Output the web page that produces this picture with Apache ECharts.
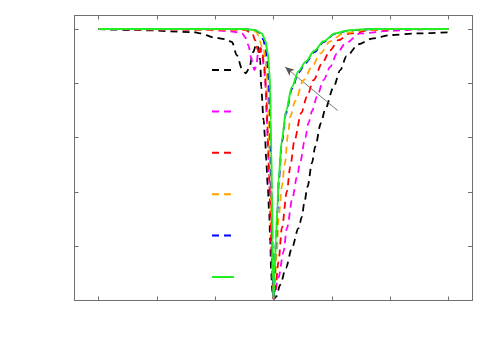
<!DOCTYPE html>
<html>
<head>
<meta charset="utf-8">
<script src="https://cdn.jsdelivr.net/npm/echarts@6/dist/echarts.min.js"></script>
<style>html,body{margin:0;padding:0;background:#fff;}#c{width:500px;height:350px;}</style>
</head>
<body>
<div id="c"></div>
<script>
// x ticks and y ticks
const xTicks = [-3, -2, -1, 0, 1, 2, 3];
const yTicks = [0, 0.2, 0.4, 0.6, 0.8, 1.0];

// curves: [x, y]
const black = [[-3,1],[-2.286,0.996],[-1.377,0.989],[-1.257,0.984],[-1.017,0.969],[-0.829,0.963],[-0.714,0.953],[-0.629,0.904],[-0.543,0.855],[-0.474,0.837],[-0.417,0.856],[-0.349,0.915],[-0.297,0.944],[-0.257,0.933],[-0.229,0.885],[-0.211,0.787],[-0.171,0.665],[-0.143,0.591],[-0.126,0.518],[-0.1,0.426],[-0.074,0.32],[-0.057,0.22],[-0.04,0.1],[-0.02,0.03],[0,0.005],[0.045,0.014],[0.114,0.058],[0.212,0.12],[0.315,0.194],[0.428,0.267],[0.486,0.309],[0.526,0.359],[0.583,0.419],[0.658,0.507],[0.714,0.567],[0.812,0.654],[0.886,0.705],[1.029,0.787],[1.143,0.849],[1.25,0.9],[1.457,0.944],[1.686,0.965],[2.0,0.978],[2.457,0.984],[3,0.988]];
const magenta = [[-3,1],[-1.257,0.998],[-0.743,0.992],[-0.543,0.985],[-0.469,0.966],[-0.434,0.941],[-0.371,0.885],[-0.326,0.849],[-0.297,0.864],[-0.263,0.915],[-0.229,0.93],[-0.194,0.904],[-0.16,0.849],[-0.143,0.812],[-0.12,0.691],[-0.097,0.566],[-0.074,0.444],[-0.057,0.37],[-0.04,0.223],[-0.023,0.094],[-0.006,0.017],[0,0.005],[0.085,0.084],[0.171,0.18],[0.229,0.267],[0.325,0.378],[0.4,0.455],[0.457,0.51],[0.543,0.6],[0.6,0.655],[0.664,0.7],[0.743,0.751],[0.857,0.812],[0.971,0.861],[1.086,0.91],[1.229,0.947],[1.486,0.984],[2,0.994],[2.566,0.999],[3,1]];
const red = [[-3,1],[-0.743,0.998],[-0.486,0.996],[-0.366,0.985],[-0.314,0.959],[-0.269,0.922],[-0.246,0.904],[-0.22,0.93],[-0.194,0.915],[-0.16,0.867],[-0.126,0.775],[-0.1,0.628],[-0.078,0.481],[-0.057,0.334],[-0.035,0.187],[-0.014,0.058],[0,0.005],[0.03,0.04],[0.085,0.143],[0.143,0.267],[0.229,0.401],[0.286,0.493],[0.36,0.591],[0.474,0.691],[0.572,0.751],[0.686,0.812],[0.829,0.873],[0.971,0.922],[1.109,0.959],[1.314,0.984],[1.657,0.996],[2.2,1],[3,1]];
const orange = [[-3,1],[-0.4,0.998],[-0.297,0.99],[-0.246,0.968],[-0.211,0.941],[-0.186,0.918],[-0.169,0.922],[-0.143,0.895],[-0.117,0.83],[-0.091,0.702],[-0.069,0.554],[-0.049,0.389],[-0.026,0.223],[-0.009,0.076],[0,0.005],[0.02,0.058],[0.058,0.18],[0.085,0.304],[0.143,0.42],[0.189,0.5],[0.257,0.628],[0.286,0.677],[0.371,0.735],[0.514,0.812],[0.658,0.861],[0.8,0.91],[0.971,0.955],[1.2,0.985],[1.6,0.997],[2,1],[3,1]];
const blue = [[-3,1],[-0.5,1],[-0.314,0.996],[-0.229,0.985],[-0.177,0.962],[-0.134,0.925],[-0.109,0.885],[-0.083,0.815],[-0.066,0.71],[-0.049,0.56],[-0.031,0.37],[-0.018,0.205],[-0.006,0.058],[0,0.005],[0.017,0.1],[0.041,0.215],[0.068,0.335],[0.09,0.44],[0.143,0.585],[0.214,0.69],[0.315,0.78],[0.428,0.84],[0.55,0.875],[0.7,0.915],[0.857,0.952],[1.05,0.982],[1.3,0.995],[1.7,1],[3,1]];
const green = [[-3,1],[-0.5,1],[-0.314,0.996],[-0.2,0.984],[-0.143,0.959],[-0.097,0.91],[-0.074,0.849],[-0.057,0.775],[-0.049,0.665],[-0.04,0.554],[-0.028,0.407],[-0.018,0.223],[-0.006,0.058],[0,0.005],[0.017,0.102],[0.041,0.223],[0.068,0.346],[0.085,0.444],[0.143,0.591],[0.214,0.698],[0.315,0.787],[0.428,0.845],[0.55,0.88],[0.7,0.92],[0.857,0.955],[1.05,0.984],[1.3,0.996],[1.7,1],[3,1]];

// arrow annotation (data coords): tail -> head
const arrowTail = [1.1, 0.7];
const arrowHead = [0.2, 0.86];

const seriesDefs = [
  {name: 'a', data: black, color: '#000000', dashed: true},
  {name: 'b', data: magenta, color: '#ff00ff', dashed: true},
  {name: 'c', data: red, color: '#ff0000', dashed: true},
  {name: 'd', data: orange, color: '#ffa500', dashed: true},
  {name: 'e', data: blue, color: '#0000ff', dashed: true},
  {name: 'f', data: green, color: '#22ee22', dashed: false}
];

const axisColor = '#707070';
function xAx(pos) {
  return {
    type: 'value', min: -3.41, max: 3.4, position: pos,
    axisLine: {show: true, onZero: false, lineStyle: {color: axisColor, width: 1}},
    axisTick: {show: true, inside: true, length: 4, customValues: xTicks, lineStyle: {color: axisColor}},
    axisLabel: {show: false}, splitLine: {show: false}
  };
}
function yAx(pos) {
  return {
    type: 'value', min: 0, max: 1.05, position: pos,
    axisLine: {show: true, onZero: false, lineStyle: {color: axisColor, width: 1}},
    axisTick: {show: true, inside: true, length: 4, customValues: yTicks, lineStyle: {color: axisColor}},
    axisLabel: {show: false}, splitLine: {show: false}
  };
}

const chart = echarts.init(document.getElementById('c'), null, {renderer: 'canvas'});
chart.setOption({
  animation: false,
  backgroundColor: '#ffffff',
  grid: {left: 74.5, right: 28, top: 15.5, bottom: 49.5, containLabel: false},
  xAxis: [xAx('bottom'), xAx('top')],
  yAxis: [yAx('left'), yAx('right')],
  legend: {
    orient: 'vertical', left: 206, top: 58,
    itemWidth: 22, itemHeight: 14, itemGap: 28.8,
    itemStyle: {color: 'rgba(0,0,0,0)', borderWidth: 0, opacity: 0},
    formatter: function () { return ''; },
    data: seriesDefs.map(s => s.name)
  },
  series: seriesDefs.map((s, i) => {
    const o = {
      name: s.name, type: 'line', data: s.data, xAxisIndex: 0, yAxisIndex: 0,
      symbol: 'none', showSymbol: false, smooth: 0.3, smoothMonotone: 'x',
      color: s.color,
      lineStyle: {color: s.color, width: s.dashed ? 1.8 : 2, type: s.dashed ? [7, 5] : 'solid'},
      z: 2 + i
    };
    if (i === 0) {
      o.markLine = {
        silent: true, animation: false,
        symbol: ['none', 'arrow'], symbolSize: [6, 9],
        label: {show: false},
        lineStyle: {color: '#555555', width: 0.8, type: 'solid'},
        data: [[{coord: arrowTail}, {coord: arrowHead}]]
      };
    }
    return o;
  })
});
</script>
</body>
</html>
